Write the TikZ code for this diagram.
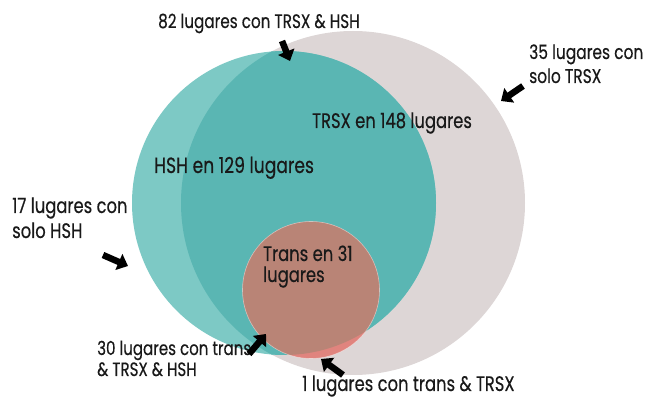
\documentclass[tikz,border=0pt]{standalone}
\usepackage{fontspec}
\setmainfont[FakeStretch=0.78,FakeBold=0.35]{Poppins}
\usetikzlibrary{arrows.meta}
\definecolor{greyc}{RGB}{221,214,214}
\definecolor{lteal}{RGB}{125,201,197}
\definecolor{dteal}{RGB}{90,182,179}
\definecolor{brownc}{RGB}{185,132,118}
\definecolor{pinkc}{RGB}{224,132,126}
\definecolor{txt}{RGB}{25,25,25}
\tikzset{
  lbl/.style={anchor=base west, inner sep=0pt, text=txt, font=\fontsize{21}{25}\selectfont, align=left},
  blk/.style={line width=6.5pt, black, -{Triangle[length=10pt,width=17pt]}}
}
\begin{document}
\begin{tikzpicture}[x=1pt,y=-1pt]
\useasboundingbox (0,0) rectangle (649,398);
\coordinate (cT) at (353,203);
\coordinate (cH) at (284,203);
\coordinate (cR) at (311,290);
% circles
\fill[greyc] (cT) circle (172pt);
\fill[lteal] (cH) circle (152pt);
\begin{scope}
  \clip (cT) circle (172pt);
  \fill[dteal] (cH) circle (152pt);
\end{scope}
\fill[pinkc] (cR) circle (68.5pt);
\begin{scope}
  \clip (cH) circle (152pt);
  \fill[brownc] (cR) circle (68.5pt);
\end{scope}
\draw[white, opacity=0.45, line width=0.6pt] (cR) circle (68.5pt);
% labels
\node[lbl, font=\fontsize{19.5}{24}\selectfont] (l82) at (158,28) {82 lugares con TRSX \& HSH};
\node[lbl, font=\fontsize{19.8}{24}\selectfont] (l35) at (529,83) {35 lugares con\\solo TRSX};
\node[lbl] (lT) at (312,128) {TRSX en 148 lugares};
\node[lbl, font=\fontsize{22}{24}\selectfont] (lH) at (154,173) {HSH en 129 lugares};
\node[lbl] (l17) at (12,238) {17 lugares con\\solo HSH};
\node[lbl, font=\fontsize{21}{21}\selectfont] (lR) at (263,282) {Trans en 31\\lugares};
\node[lbl, font=\fontsize{19.3}{21}\selectfont] (l30) at (97,376) {30 lugares con trans\\\& TRSX \& HSH};
\node[lbl] (l1) at (302,391) {1 lugares con trans \& TRSX};
% arrows
\coordinate (a1s) at (282,41);  \coordinate (a1e) at (290,61);
\coordinate (a2s) at (523,86);  \coordinate (a2e) at (501,101);
\coordinate (a3s) at (103,255); \coordinate (a3e) at (128,266);
\coordinate (a4s) at (249,354); \coordinate (a4e) at (266,334);
\coordinate (a5s) at (343,375); \coordinate (a5e) at (321,359);
\draw[blk] (a1s) -- (a1e);
\draw[blk] (a2s) -- (a2e);
\draw[blk] (a3s) -- (a3e);
\draw[blk] (a4s) -- (a4e);
\draw[blk] (a5s) -- (a5e);
\end{tikzpicture}
\end{document}
